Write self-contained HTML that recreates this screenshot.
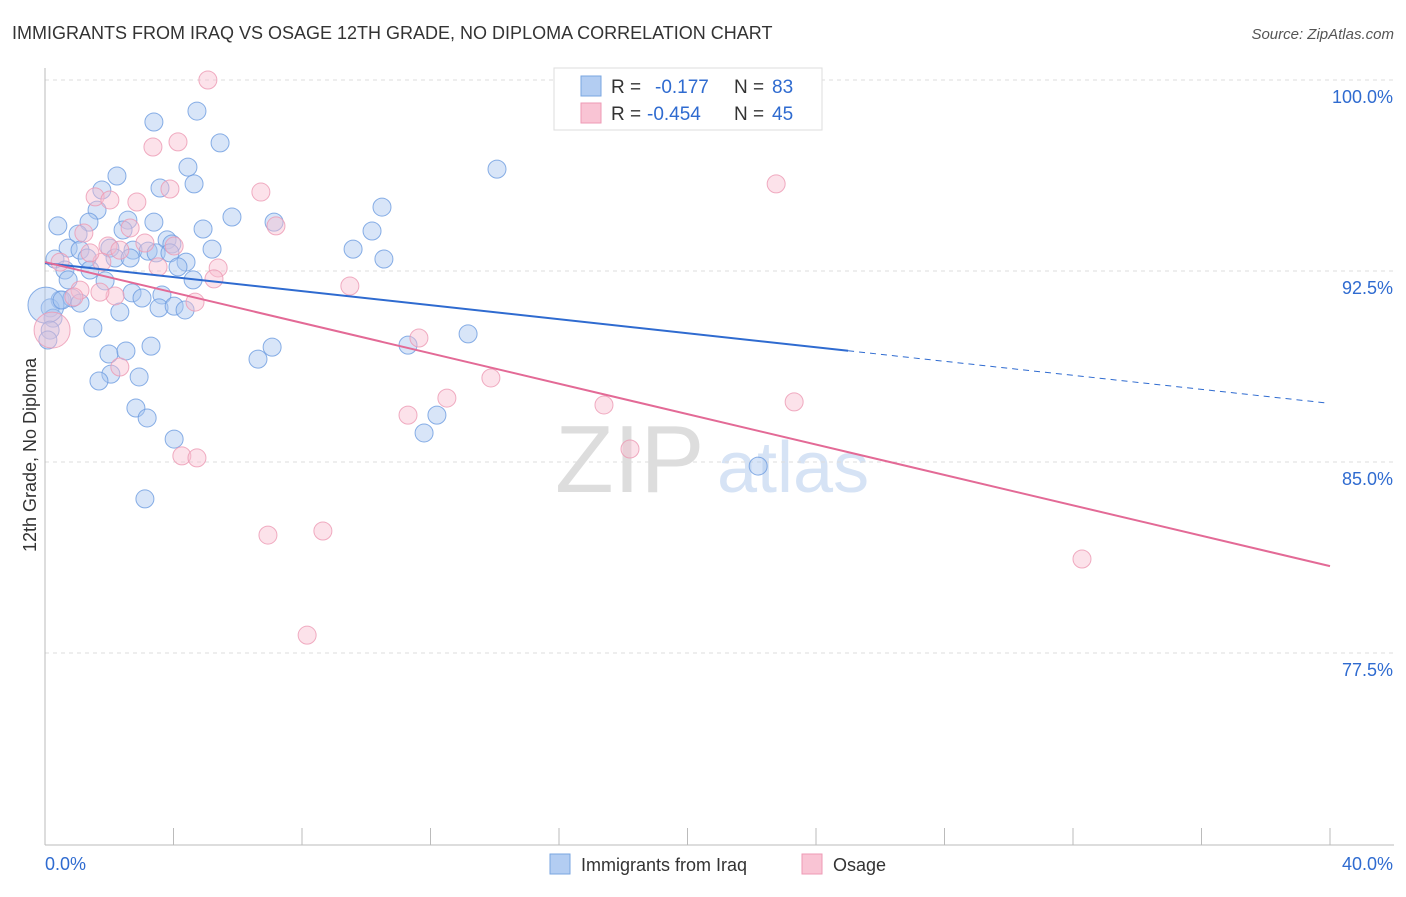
<!DOCTYPE html>
<html><head><meta charset="utf-8"><style>
body{margin:0;background:#fff;font-family:"Liberation Sans",sans-serif}
svg text{font-family:"Liberation Sans",sans-serif}
</style></head><body>
<svg id="c" width="1406" height="892">
<text x="12" y="39" font-size="18" fill="#333">IMMIGRANTS FROM IRAQ VS OSAGE 12TH GRADE, NO DIPLOMA CORRELATION CHART</text>
<text x="1394" y="39" font-size="15" fill="#555" text-anchor="end" font-style="italic">Source: ZipAtlas.com</text>
<text x="36" y="455" font-size="18" fill="#333" text-anchor="middle" transform="rotate(-90 36 455)">12th Grade, No Diploma</text>
<text x="555" y="492" font-size="96" fill="#ddd" font-family="Liberation Serif">ZIP</text>
<text x="717" y="492" font-size="72" fill="#d6e3f5">atlas</text>
<g id="grid"></g><g id="pts"></g><g id="lines"></g>
<g>
<rect x="554" y="68" width="268" height="62" fill="#fff" stroke="#ddd"/>
<rect x="581" y="76" width="20" height="20" fill="#b3cdf2" stroke="#7aa6e0"/>
<rect x="581" y="103" width="20" height="20" fill="#f9c4d4" stroke="#ee9ab5"/>
<text x="611" y="93" font-size="19" fill="#333">R =</text>
<text x="655" y="93" font-size="19" fill="#2f6bd0">-0.177</text>
<text x="734" y="93" font-size="19" fill="#333">N =</text>
<text x="772" y="93" font-size="19" fill="#2f6bd0">83</text>
<text x="611" y="120" font-size="19" fill="#333">R =</text>
<text x="647" y="120" font-size="19" fill="#2f6bd0">-0.454</text>
<text x="734" y="120" font-size="19" fill="#333">N =</text>
<text x="772" y="120" font-size="19" fill="#2f6bd0">45</text>
</g>
<g>
<rect x="550" y="854" width="20" height="20" fill="#b3cdf2" stroke="#7aa6e0"/>
<text x="581" y="871" font-size="18" fill="#333">Immigrants from Iraq</text>
<rect x="802" y="854" width="20" height="20" fill="#f9c4d4" stroke="#ee9ab5"/>
<text x="833" y="871" font-size="18" fill="#333">Osage</text>
</g>
</svg>
<script>
const xTicks=[0,4,8,12,16,20,24,28,32,36,40];
const yTicks=[100,92.5,85,77.5];
const blueX=[3.39,4.73,5.45,4.45,4.64,3.58,2.24,1.77,1.62,0.40,1.37,2.58,3.39,5.82,4.92,7.13,10.49,10.18,9.59,10.55,14.07,1.03,0.72,1.09,2.02,2.43,2.74,3.21,3.80,3.95,3.46,3.89,5.20,4.39,4.14,2.18,2.65,1.31,0.31,0.62,1.40,0.72,1.87,2.71,3.02,3.64,3.55,4.02,4.36,4.61,0.47,0.84,1.09,0.16,0.25,2.33,1.49,1.99,2.52,3.30,2.05,1.68,2.93,6.63,7.07,11.30,13.17,2.83,3.18,4.02,12.20,11.80,22.20,3.11,0.03,0.16,0.53,0.09];
const blueY=[98.35,98.78,97.53,96.58,95.92,95.76,96.23,95.68,94.89,94.27,94.42,94.50,94.42,94.62,94.15,94.42,95.01,94.07,93.36,92.97,96.50,93.95,93.40,93.32,93.40,94.11,93.32,93.28,93.72,93.56,93.21,93.21,93.36,92.85,92.66,93.01,93.01,93.01,92.97,92.54,92.54,92.15,92.11,91.64,91.44,91.56,91.05,91.12,90.97,92.15,91.36,91.44,91.24,91.05,90.65,90.89,90.26,89.24,89.36,89.55,88.45,88.18,88.34,89.04,89.51,89.59,90.03,87.12,86.73,85.90,86.84,86.14,84.84,83.55,91.16,90.18,91.36,89.79];
const pinkX=[5.07,4.14,3.36,3.89,6.72,22.76,1.56,2.02,2.86,1.21,2.65,1.96,3.11,2.33,4.02,3.52,5.39,5.26,1.77,0.47,1.09,2.18,4.67,1.71,0.22,9.49,11.64,13.88,12.51,11.30,17.40,23.32,18.21,4.26,4.73,6.94,8.65,8.16,32.28,2.33,7.19,0.90,1.40];
const pinkY=[100.0,97.57,97.37,95.72,95.60,95.92,95.41,95.29,95.21,93.99,94.19,93.48,93.60,93.32,93.48,92.66,92.62,92.19,92.85,92.85,91.75,91.52,91.28,91.67,90.18,91.91,89.87,88.30,87.51,86.84,87.24,87.36,85.51,85.24,85.16,82.13,82.29,78.20,81.19,88.73,94.27,91.48,93.21];
const blueTrend=[92.81,-0.1377];
const pinkTrend=[92.85,-0.2985];
const sx=v=>45+v/40*1285;
const sy=v=>80+(100-v)/7.5*191;
const NS='http://www.w3.org/2000/svg';
function mk(p,t,a){const e=document.createElementNS(NS,t);for(const k in a)e.setAttribute(k,a[k]);p.appendChild(e);return e;}
const g=document.getElementById('grid');
yTicks.forEach(v=>{
 const l=mk(g,'line',{x1:45,x2:1394,y1:sy(v),y2:sy(v),stroke:'#ddd','stroke-dasharray':'4,4'});
 
 
 const t=mk(g,'text',{x:1393,y:sy(v)+23,'font-size':18,fill:'#2f6bd0','text-anchor':'end'});t.textContent=v.toFixed(1)+'%';
 
 
});
const ax=mk(g,'line',{x1:45,x2:45,y1:68,y2:845,stroke:'#bbb'});


const bx=mk(g,'line',{x1:45,x2:1394,y1:845,y2:845,stroke:'#bbb'});


xTicks.forEach(v=>{const l=mk(g,'line',{x1:sx(v),x2:sx(v),y1:828,y2:845,stroke:'#bbb'});
 
 });
[[0,'start',45],[40,'end',1393]].forEach(([v,a,x])=>{const t=mk(g,'text',{x:x,y:870,'font-size':18,fill:'#2f6bd0','text-anchor':a});t.textContent=v.toFixed(1)+'%';
 
 });
const p=document.getElementById('pts');
function pts(X,Y,f,s,name,bigIdx){X.forEach((x,i)=>{const c=mk(p,'circle',{cx:sx(x),cy:sy(Y[i]),r:i===bigIdx?18:9,fill:f,'fill-opacity':0.45,stroke:s,'stroke-opacity':0.8});
 
 });}
pts(blueX,blueY,'#a9c6ef','#6b9be0','iraq-point',74);
pts(pinkX,pinkY,'#f8bfd0','#ec98b3','osage-point',24);
const L=document.getElementById('lines');
const b1=mk(L,'line',{x1:sx(0),y1:sy(blueTrend[0]),x2:sx(25),y2:sy(blueTrend[0]+blueTrend[1]*25),stroke:'#2f6bd0','stroke-width':2});


const b2=mk(L,'line',{x1:sx(25),y1:sy(blueTrend[0]+blueTrend[1]*25),x2:sx(39.85),y2:sy(blueTrend[0]+blueTrend[1]*39.85),stroke:'#2f6bd0','stroke-width':1,'stroke-dasharray':'6,5'});


const p1=mk(L,'line',{x1:sx(0),y1:sy(pinkTrend[0]),x2:sx(40),y2:sy(pinkTrend[0]+pinkTrend[1]*40),stroke:'#e36a96','stroke-width':2});


</script>
</body></html>
